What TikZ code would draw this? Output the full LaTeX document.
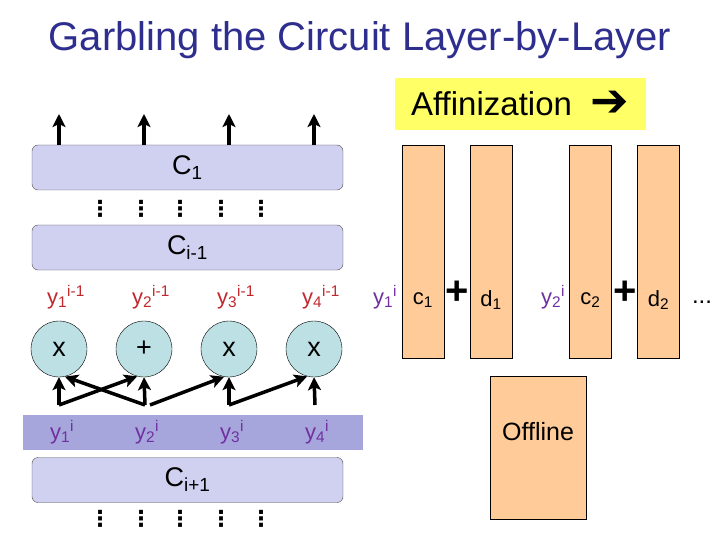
\documentclass[tikz,border=0pt]{standalone}
\usepackage{fontspec}
\setmainfont{Liberation Sans}
\newfontfamily\symfont{DejaVu Sans}
\usetikzlibrary{arrows.meta}
\definecolor{titleblue}{HTML}{2E2E8E}
\definecolor{layerfill}{HTML}{D0D0F0}
\definecolor{bandfill}{HTML}{A6A6DC}
\definecolor{gatefill}{HTML}{BCE0E4}
\definecolor{wirered}{HTML}{C0282D}
\definecolor{wirepurple}{HTML}{7030A0}
\definecolor{keyfill}{HTML}{FFCC99}
\definecolor{hilite}{HTML}{FFFF66}
\newcommand{\wire}[2]{y\textsubscript{#1}\textsuperscript{#2}}
\newcommand{\fsz}[1]{\fontsize{#1}{#1}\selectfont}

\begin{document}
\begin{tikzpicture}[x=1pt, y=-1pt,
  layer/.style={draw=black!70, fill=layerfill, rounded corners=6pt, minimum width=311pt, minimum height=45pt, inner sep=0pt, font=\fsz{27}},
  gate/.style={circle, draw, fill=gatefill, minimum size=56pt, inner sep=0pt, font=\fsz{27}},
  keybar/.style={draw, fill=keyfill, minimum width=42pt, minimum height=213pt, anchor=north, inner sep=0pt},
  lbl/.style={font=\fsz{22}, inner sep=0pt},
  dots/.style={font=\symfont\bfseries\fsz{22}, inner sep=0pt},
  feed/.style={-{Stealth[length=13pt,width=13pt,inset=3pt]}, line width=3.5pt}]
\useasboundingbox (0,0) rectangle (720,540);
% title
\node[font=\fsz{40}, text=titleblue] (title) at (360,40) {Garbling the Circuit Layer-by-Layer};
\node[fill=hilite, minimum width=251pt, minimum height=52pt, font=\fsz{33}] (affine) at (520,104) {Affinization\ \ \raisebox{-1pt}{\symfont\fsz{46}➔}};
% layers
\node[layer] (l1) at (187.5,167.5) {C\textsubscript{1}};
\node[layer] (lprev) at (187.5,247.5) {C\textsubscript{i-1}};
\node[fill=bandfill, minimum width=340pt, minimum height=35pt] (band) at (193,432.5) {};
\node[layer] (lnext) at (187.5,480) {C\textsubscript{i+1}};
\foreach \x in {100,141,180,221,261} {
  \node[dots] at (\x,209) {⋮};
  \node[dots] at (\x,519) {⋮};
}
% outputs
\foreach \k/\x in {1/59,2/144,3/229,4/314} {
  \coordinate (o\k) at (\x,114);
  \draw[feed] (l1.north -| o\k) -- (o\k);
}
% gates
\node[gate] (g1) at (59,349) {x};
\node[gate] (g2) at (144,349) {+};
\node[gate] (g3) at (229,349) {x};
\node[gate] (g4) at (314,349) {x};
\foreach \k/\x in {1/66,2/151,3/236,4/321} {
  \node[lbl, text=wirered] (in\k) at (\x,297) {\wire{\k}{i-1}};
  \node[lbl, text=wirepurple] (out\k) at (\x-4,432) {\wire{\k}{i}};
}
\coordinate (w1) at (59,405);
\coordinate (w2) at (145,405);
\coordinate (w3) at (229,405);
\coordinate (w4) at (315,405);
\draw[feed] (w1) -- (g1.south);
\draw[feed] (w1) -- (g2.-104);
\draw[feed] (w2) -- (g1.-78);
\draw[feed] (w2) -- (g2.south);
\draw[feed] ([xshift=5pt]w2) -- (g3.-100);
\draw[feed] (w3) -- (g3.south);
\draw[feed] (w3) -- (g4.-104);
\draw[feed] (w4) -- (g4.south);
% affinization
\node[keybar] (c1) at (423,145) {};
\node[keybar] (d1) at (491,145) {};
\node[keybar] (c2) at (590.5,145) {};
\node[keybar] (d2) at (658.5,145) {};
\node[lbl, text=wirepurple] (y1) at (385,297) {\wire{1}{i}};
\node[lbl, text=wirepurple] (y2) at (553,297) {\wire{2}{i}};
\node[lbl] (c1lbl) at (c1 |- 0,300) {c\textsubscript{1}};
\node[lbl] (d1lbl) at (d1 |- 0,300) {d\textsubscript{1}};
\node[lbl] (c2lbl) at (c2 |- 0,300) {c\textsubscript{2}};
\node[lbl] (d2lbl) at (d2 |- 0,300) {d\textsubscript{2}};
\node[font=\fsz{40}\bfseries, inner sep=0pt] (plus1) at (457.5,293) {+};
\node[font=\fsz{40}\bfseries, inner sep=0pt] (plus2) at (625,293) {+};
\node[font=\fsz{24}, inner sep=0pt, anchor=base] (more) at (702,303) {...};
\node[draw, fill=keyfill, minimum width=96pt, minimum height=143pt, inner sep=0pt] (offline) at (538,447.5) {};
\node[font=\fsz{25}, inner sep=0pt] (offlbl) at (538,432) {Offline};
\end{tikzpicture}
\end{document}
